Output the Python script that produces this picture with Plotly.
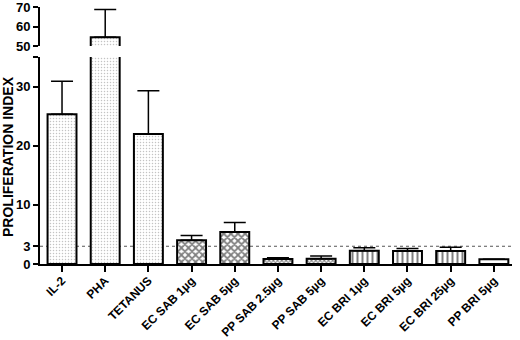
import plotly.graph_objects as go

categories = ["IL-2", "PHA", "TETANUS", "EC SAB 1µg", "EC SAB 5µg", "PP SAB 2.5µg",
              "PP SAB 5µg", "EC BRI 1µg", "EC BRI 5µg", "EC BRI 25µg", "PP BRI 5µg"]
values = [25.3, 54.5, 22.0, 4.0, 5.4, 0.85, 0.9, 2.25, 2.2, 2.2, 0.8]
errors = [5.6, 14.2, 7.3, 0.8, 1.6, 0.2, 0.45, 0.5, 0.4, 0.65, 0.0]
lower_ticks = [0, 3, 10, 20, 30, 35]
lower_ticktext = ["0", "3", "10", "20", "30", ""]
upper_ticks = [50, 60, 70]
threshold = 3

shapes = [".", ".", ".", "x", "x", "x", "x", "|", "|", "|", ""]
psize = [3, 3, 3, 5, 5, 3, 3, 5, 5, 5, 8]
psolid = [0.2, 0.2, 0.2, 0.6, 0.6, 0.55, 0.55, 0.4, 0.4, 0.4, 0.3]
pfg = ["#888", "#888", "#888", "black", "black", "black", "black", "black", "black", "black", "black"]

font = "Liberation Sans"

def bar(xa, ya):
    return go.Bar(
        x=categories, y=values, xaxis=xa, yaxis=ya, width=0.67,
        marker=dict(color="white", line=dict(color="black", width=2),
                    pattern=dict(shape=shapes, size=psize, solidity=psolid,
                                 fgcolor=pfg, bgcolor="white", fillmode="overlay")),
        error_y=dict(type="data", array=errors, arrayminus=[0] * len(errors),
                     symmetric=False, color="black", thickness=1.5, width=11),
        showlegend=False, cliponaxis=True, hoverinfo="skip")

fig = go.Figure([bar("x", "y"), bar("x2", "y2")])

top = 7
bottom = 76
plot_h = 340 - top - bottom
fig.update_layout(
    width=520, height=340, margin=dict(l=40, r=8, t=top, b=bottom, autoexpand=False),
    paper_bgcolor="white", plot_bgcolor="rgba(0,0,0,0)",
    font=dict(family=font, color="black"),
    xaxis=dict(range=[-0.51, 10.42], showline=True, linecolor="black", linewidth=2,
               ticks="outside", ticklen=6, tickwidth=1.5, tickcolor="black",
               tickangle=-45, tickfont=dict(family=font, size=12, weight="bold"),
               ticklabelstandoff=-3,
               anchor="y", showgrid=False, automargin=False, fixedrange=True),
    xaxis2=dict(range=[-0.51, 10.42], matches="x", anchor="y2", visible=False),
    yaxis=dict(domain=[0, (264 - 57) / plot_h], range=[0, 35], tickvals=lower_ticks,
               ticktext=lower_ticktext, showline=True, linecolor="black", linewidth=2,
               ticks="outside", ticklen=5, tickwidth=1.5, tickcolor="black",
               tickfont=dict(family=font, size=13, weight="bold"),
               showgrid=False, zeroline=False, anchor="x", automargin=False, fixedrange=True),
    yaxis2=dict(domain=[(264 - 46) / plot_h, 1], range=[50, 70], tickvals=upper_ticks,
                showline=True, linecolor="black", linewidth=2,
                ticks="outside", ticklen=5, tickwidth=1.5, tickcolor="black",
                tickfont=dict(family=font, size=13, weight="bold"),
                showgrid=False, zeroline=False, anchor="x2", automargin=False,
                ticklabeloverflow="allow", fixedrange=True),
    shapes=[dict(type="line", xref="x domain", yref="y", x0=0, x1=1, y0=threshold, y1=threshold,
                 line=dict(color="#555", width=1, dash="dot"), layer="below")],
    annotations=[dict(text="PROLIFERATION INDEX", xref="paper", yref="paper",
                      x=(8 - 40) / 472, y=(264 - 157) / plot_h, textangle=-90,
                      showarrow=False, xanchor="center", yanchor="middle",
                      font=dict(family=font, size=14, weight="bold"))],
)

fig.write_html("out.html", config={"displayModeBar": False},
               post_script="document.body.style.margin='0';")
